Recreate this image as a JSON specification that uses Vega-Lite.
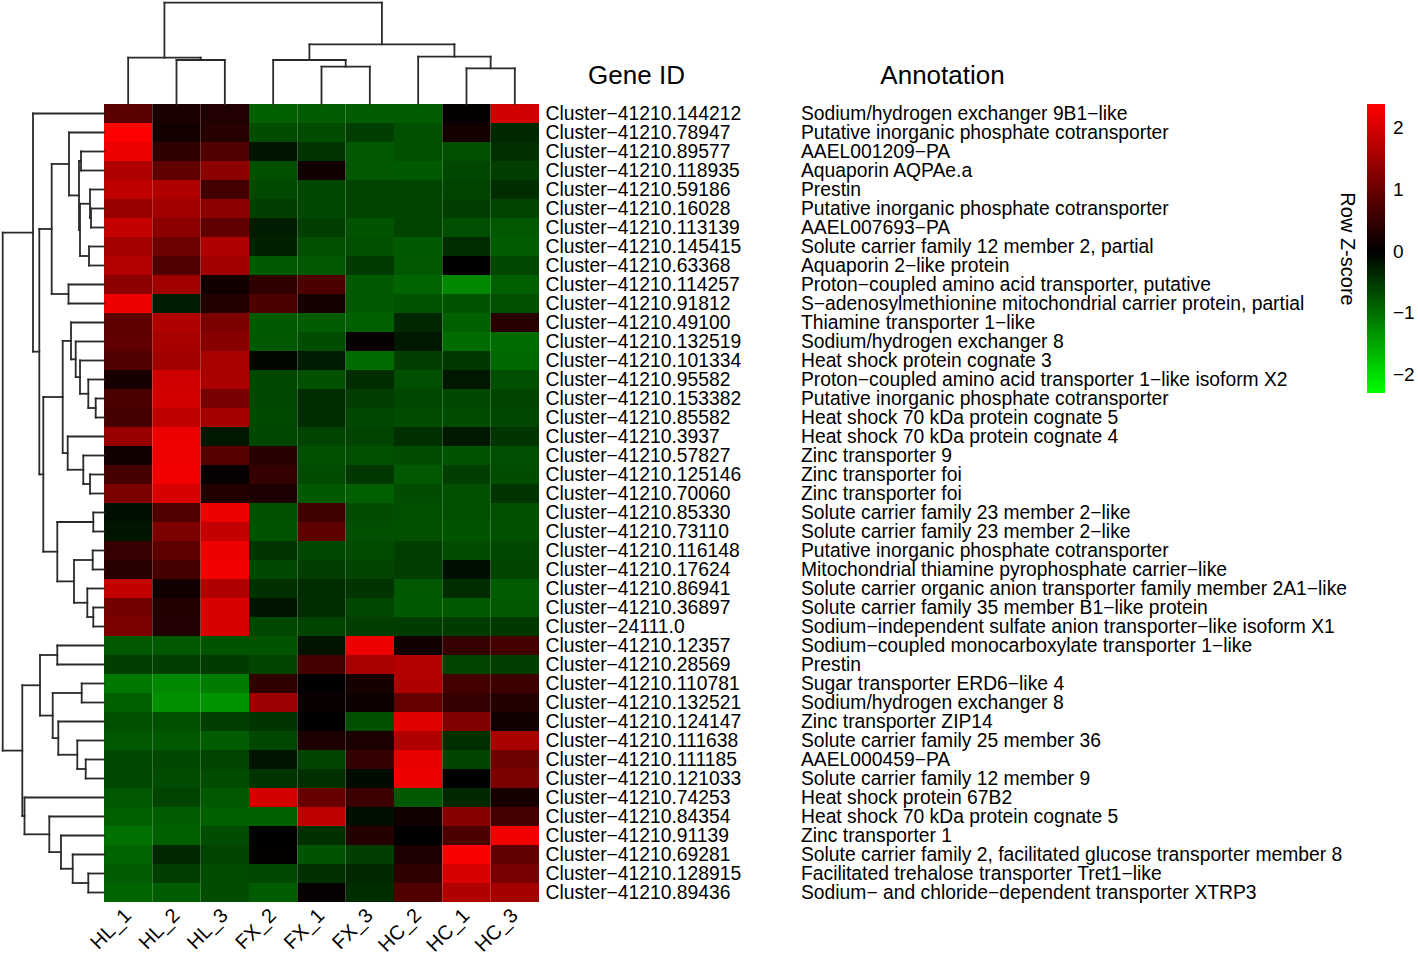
{
 "$schema": "https://vega.github.io/schema/vega-lite/v6.json",
 "width": 435,
 "height": 798,
 "autosize": {"type": "none"},
 "padding": {"left": 104, "top": 104, "right": 879, "bottom": 57},
 "background": "white",
 "config": {"view": {"stroke": null}, "font": "Liberation Sans"},
 "datasets": {
  "genes": [
   {"id":"Cluster−41210.144212","annot":"Sodium/hydrogen exchanger 9B1−like","HL_1":0.84,"HL_2":0.24,"HL_3":0.30,"FX_2":-0.86,"FX_1":-0.83,"FX_3":-0.83,"HC_2":-0.83,"HC_1":0.05,"HC_3":1.95},
   {"id":"Cluster−41210.78947","annot":"Putative inorganic phosphate cotransporter","HL_1":2.39,"HL_2":0.20,"HL_3":0.37,"FX_2":-0.68,"FX_1":-0.68,"FX_3":-0.57,"HC_2":-0.72,"HC_1":0.20,"HC_3":-0.36},
   {"id":"Cluster−41210.89577","annot":"AAEL001209−PA","HL_1":2.23,"HL_2":0.45,"HL_3":0.75,"FX_2":-0.18,"FX_1":-0.47,"FX_3":-0.79,"HC_2":-0.72,"HC_1":-0.72,"HC_3":-0.43},
   {"id":"Cluster−41210.118935","annot":"Aquaporin AQPAe.a","HL_1":1.65,"HL_2":0.90,"HL_3":1.31,"FX_2":-0.72,"FX_1":0.15,"FX_3":-0.79,"HC_2":-0.81,"HC_1":-0.65,"HC_3":-0.57},
   {"id":"Cluster−41210.59186","annot":"Prestin","HL_1":1.80,"HL_2":1.65,"HL_3":0.64,"FX_2":-0.66,"FX_1":-0.65,"FX_3":-0.61,"HC_2":-0.61,"HC_1":-0.61,"HC_3":-0.40},
   {"id":"Cluster−41210.16028","annot":"Putative inorganic phosphate cotransporter","HL_1":1.42,"HL_2":1.50,"HL_3":1.31,"FX_2":-0.57,"FX_1":-0.65,"FX_3":-0.61,"HC_2":-0.61,"HC_1":-0.57,"HC_3":-0.61},
   {"id":"Cluster−41210.113139","annot":"AAEL007693−PA","HL_1":1.84,"HL_2":1.31,"HL_3":0.90,"FX_2":-0.25,"FX_1":-0.57,"FX_3":-0.75,"HC_2":-0.61,"HC_1":-0.70,"HC_3":-0.79},
   {"id":"Cluster−41210.145415","annot":"Solute carrier family 12 member 2, partial","HL_1":1.54,"HL_2":1.05,"HL_3":1.65,"FX_2":-0.29,"FX_1":-0.72,"FX_3":-0.72,"HC_2":-0.81,"HC_1":-0.40,"HC_3":-0.83},
   {"id":"Cluster−41210.63368","annot":"Aquaporin 2−like protein","HL_1":1.69,"HL_2":0.75,"HL_3":1.50,"FX_2":-0.81,"FX_1":-0.79,"FX_3":-0.54,"HC_2":-0.79,"HC_1":0.0,"HC_3":-0.65},
   {"id":"Cluster−41210.114257","annot":"Proton−coupled amino acid transporter, putative","HL_1":1.31,"HL_2":1.50,"HL_3":0.17,"FX_2":0.45,"FX_1":0.71,"FX_3":-0.81,"HC_2":-0.90,"HC_1":-1.22,"HC_3":-0.86},
   {"id":"Cluster−41210.91812","annot":"S−adenosylmethionine mitochondrial carrier protein, partial","HL_1":2.23,"HL_2":-0.25,"HL_3":0.32,"FX_2":0.71,"FX_1":0.21,"FX_3":-0.81,"HC_2":-0.75,"HC_1":-0.75,"HC_3":-0.72},
   {"id":"Cluster−41210.49100","annot":"Thiamine transporter 1−like","HL_1":0.86,"HL_2":1.65,"HL_3":1.16,"FX_2":-0.81,"FX_1":-0.83,"FX_3":-0.86,"HC_2":-0.36,"HC_1":-0.86,"HC_3":0.37},
   {"id":"Cluster−41210.132519","annot":"Sodium/hydrogen exchanger 8","HL_1":0.90,"HL_2":1.57,"HL_3":1.27,"FX_2":-0.79,"FX_1":-0.68,"FX_3":0.07,"HC_2":-0.22,"HC_1":-0.97,"HC_3":-0.97},
   {"id":"Cluster−41210.101334","annot":"Heat shock protein cognate 3","HL_1":0.75,"HL_2":1.50,"HL_3":1.57,"FX_2":-0.07,"FX_1":-0.25,"FX_3":-0.97,"HC_2":-0.57,"HC_1":-0.50,"HC_3":-0.93},
   {"id":"Cluster−41210.95582","annot":"Proton−coupled amino acid transporter 1−like isoform X2","HL_1":0.21,"HL_2":1.95,"HL_3":1.61,"FX_2":-0.65,"FX_1":-0.72,"FX_3":-0.40,"HC_2":-0.70,"HC_1":-0.22,"HC_3":-0.70},
   {"id":"Cluster−41210.153382","annot":"Putative inorganic phosphate cotransporter","HL_1":0.71,"HL_2":1.99,"HL_3":1.12,"FX_2":-0.65,"FX_1":-0.40,"FX_3":-0.57,"HC_2":-0.65,"HC_1":-0.65,"HC_3":-0.61},
   {"id":"Cluster−41210.85582","annot":"Heat shock 70 kDa protein cognate 5","HL_1":0.67,"HL_2":1.80,"HL_3":1.54,"FX_2":-0.66,"FX_1":-0.40,"FX_3":-0.65,"HC_2":-0.68,"HC_1":-0.68,"HC_3":-0.65},
   {"id":"Cluster−41210.3937","annot":"Heat shock 70 kDa protein cognate 4","HL_1":1.42,"HL_2":2.21,"HL_3":-0.22,"FX_2":-0.65,"FX_1":-0.61,"FX_3":-0.61,"HC_2":-0.43,"HC_1":-0.22,"HC_3":-0.47},
   {"id":"Cluster−41210.57827","annot":"Zinc transporter 9","HL_1":0.17,"HL_2":2.25,"HL_3":0.82,"FX_2":0.37,"FX_1":-0.72,"FX_3":-0.72,"HC_2":-0.68,"HC_1":-0.75,"HC_3":-0.70},
   {"id":"Cluster−41210.125146","annot":"Zinc transporter foi","HL_1":0.67,"HL_2":2.27,"HL_3":0.07,"FX_2":0.49,"FX_1":-0.68,"FX_3":-0.50,"HC_2":-0.79,"HC_1":-0.57,"HC_3":-0.68},
   {"id":"Cluster−41210.70060","annot":"Zinc transporter foi","HL_1":1.16,"HL_2":2.02,"HL_3":0.32,"FX_2":0.26,"FX_1":-0.81,"FX_3":-0.86,"HC_2":-0.68,"HC_1":-0.72,"HC_3":-0.47},
   {"id":"Cluster−41210.85330","annot":"Solute carrier family 23 member 2−like","HL_1":-0.14,"HL_2":0.75,"HL_3":2.21,"FX_2":-0.72,"FX_1":0.60,"FX_3":-0.68,"HC_2":-0.72,"HC_1":-0.72,"HC_3":-0.72},
   {"id":"Cluster−41210.73110","annot":"Solute carrier family 23 member 2−like","HL_1":-0.18,"HL_2":1.16,"HL_3":1.84,"FX_2":-0.75,"FX_1":0.86,"FX_3":-0.72,"HC_2":-0.72,"HC_1":-0.75,"HC_3":-0.72},
   {"id":"Cluster−41210.116148","annot":"Putative inorganic phosphate cotransporter","HL_1":0.52,"HL_2":0.86,"HL_3":2.23,"FX_2":-0.47,"FX_1":-0.65,"FX_3":-0.68,"HC_2":-0.57,"HC_1":-0.68,"HC_3":-0.65},
   {"id":"Cluster−41210.17624","annot":"Mitochondrial thiamine pyrophosphate carrier−like","HL_1":0.37,"HL_2":0.67,"HL_3":2.29,"FX_2":-0.65,"FX_1":-0.57,"FX_3":-0.61,"HC_2":-0.57,"HC_1":-0.14,"HC_3":-0.61},
   {"id":"Cluster−41210.86941","annot":"Solute carrier organic anion transporter family member 2A1−like","HL_1":1.84,"HL_2":0.15,"HL_3":1.65,"FX_2":-0.43,"FX_1":-0.40,"FX_3":-0.47,"HC_2":-0.79,"HC_1":-0.40,"HC_3":-0.83},
   {"id":"Cluster−41210.36897","annot":"Solute carrier family 35 member B1−like protein","HL_1":1.09,"HL_2":0.34,"HL_3":2.02,"FX_2":-0.18,"FX_1":-0.40,"FX_3":-0.65,"HC_2":-0.81,"HC_1":-0.81,"HC_3":-0.79},
   {"id":"Cluster−24111.0","annot":"Sodium−independent sulfate anion transporter−like isoform X1","HL_1":1.16,"HL_2":0.30,"HL_3":2.02,"FX_2":-0.65,"FX_1":-0.61,"FX_3":-0.57,"HC_2":-0.54,"HC_1":-0.54,"HC_3":-0.50},
   {"id":"Cluster−41210.12357","annot":"Sodium−coupled monocarboxylate transporter 1−like","HL_1":-0.79,"HL_2":-0.79,"HL_3":-0.75,"FX_2":-0.75,"FX_1":-0.18,"FX_3":2.23,"HC_2":0.15,"HC_1":0.52,"HC_3":0.64},
   {"id":"Cluster−41210.28569","annot":"Prestin","HL_1":-0.57,"HL_2":-0.57,"HL_3":-0.54,"FX_2":-0.61,"FX_1":0.64,"FX_3":1.57,"HC_2":1.69,"HC_1":-0.61,"HC_3":-0.57},
   {"id":"Cluster−41210.110781","annot":"Sugar transporter ERD6−like 4","HL_1":-1.08,"HL_2":-1.22,"HL_3":-1.11,"FX_2":0.45,"FX_1":0.0,"FX_3":0.22,"HC_2":1.65,"HC_1":0.64,"HC_3":0.56},
   {"id":"Cluster−41210.132521","annot":"Sodium/hydrogen exchanger 8","HL_1":-0.86,"HL_2":-1.29,"HL_3":-1.33,"FX_2":1.46,"FX_1":0.09,"FX_3":0.13,"HC_2":0.94,"HC_1":0.49,"HC_3":0.34},
   {"id":"Cluster−41210.124147","annot":"Zinc transporter ZIP14","HL_1":-0.72,"HL_2":-0.72,"HL_3":-0.57,"FX_2":-0.47,"FX_1":0.0,"FX_3":-0.72,"HC_2":2.10,"HC_1":1.20,"HC_3":0.17},
   {"id":"Cluster−41210.111638","annot":"Solute carrier family 25 member 36","HL_1":-0.79,"HL_2":-0.79,"HL_3":-0.83,"FX_2":-0.65,"FX_1":0.26,"FX_3":0.26,"HC_2":1.65,"HC_1":-0.43,"HC_3":1.57},
   {"id":"Cluster−41210.111185","annot":"AAEL000459−PA","HL_1":-0.65,"HL_2":-0.65,"HL_3":-0.61,"FX_2":-0.18,"FX_1":-0.61,"FX_3":0.49,"HC_2":2.17,"HC_1":-0.61,"HC_3":1.05},
   {"id":"Cluster−41210.121033","annot":"Solute carrier family 12 member 9","HL_1":-0.65,"HL_2":-0.68,"HL_3":-0.68,"FX_2":-0.47,"FX_1":-0.43,"FX_3":-0.11,"HC_2":2.23,"HC_1":0.0,"HC_3":1.16},
   {"id":"Cluster−41210.74253","annot":"Heat shock protein 67B2","HL_1":-0.79,"HL_2":-0.61,"HL_3":-0.79,"FX_2":1.99,"FX_1":0.97,"FX_3":0.56,"HC_2":-0.79,"HC_1":-0.36,"HC_3":0.22},
   {"id":"Cluster−41210.84354","annot":"Heat shock 70 kDa protein cognate 5","HL_1":-0.86,"HL_2":-0.83,"HL_3":-0.86,"FX_2":-0.86,"FX_1":1.80,"FX_3":-0.13,"HC_2":0.17,"HC_1":1.27,"HC_3":0.64},
   {"id":"Cluster−41210.91139","annot":"Zinc transporter 1","HL_1":-1.01,"HL_2":-0.86,"HL_3":-0.68,"FX_2":0.0,"FX_1":-0.43,"FX_3":0.34,"HC_2":0.0,"HC_1":0.71,"HC_3":2.29},
   {"id":"Cluster−41210.69281","annot":"Solute carrier family 2, facilitated glucose transporter member 8","HL_1":-0.90,"HL_2":-0.36,"HL_3":-0.61,"FX_2":0.04,"FX_1":-0.75,"FX_3":-0.57,"HC_2":0.26,"HC_1":2.34,"HC_3":0.90},
   {"id":"Cluster−41210.128915","annot":"Facilitated trehalose transporter Tret1−like","HL_1":-0.83,"HL_2":-0.57,"HL_3":-0.68,"FX_2":-0.65,"FX_1":-0.43,"FX_3":-0.36,"HC_2":0.45,"HC_1":2.02,"HC_3":1.12},
   {"id":"Cluster−41210.89436","annot":"Sodium− and chloride−dependent transporter XTRP3","HL_1":-0.90,"HL_2":-0.83,"HL_3":-0.68,"FX_2":-0.83,"FX_1":0.07,"FX_3":-0.40,"HC_2":0.75,"HC_1":1.65,"HC_3":1.54}
  ],
  "rowtree": [
   {"h":23,"p1":2.5,"h1":0,"p2":3.5,"h2":0},
   {"h":13,"p1":5.5,"h1":0,"p2":6.5,"h2":0},
   {"h":14,"p1":4.5,"h1":0,"p2":6.0,"h2":13},
   {"h":15,"p1":7.5,"h1":0,"p2":8.5,"h2":0},
   {"h":24,"p1":5.25,"h1":14,"p2":8.0,"h2":15},
   {"h":25,"p1":3.0,"h1":23,"p2":6.625,"h2":24},
   {"h":35,"p1":1.5,"h1":0,"p2":4.8125,"h2":25},
   {"h":35.5,"p1":9.5,"h1":0,"p2":10.5,"h2":0},
   {"h":52.3,"p1":3.156,"h1":35,"p2":10.0,"h2":35.5},
   {"h":8.3,"p1":15.5,"h1":0,"p2":16.5,"h2":0},
   {"h":15.7,"p1":14.5,"h1":0,"p2":16.0,"h2":8.3},
   {"h":24,"p1":13.5,"h1":0,"p2":15.25,"h2":15.7},
   {"h":28.3,"p1":12.5,"h1":0,"p2":14.375,"h2":24},
   {"h":33,"p1":11.5,"h1":0,"p2":13.4375,"h2":28.3},
   {"h":14,"p1":19.5,"h1":0,"p2":20.5,"h2":0},
   {"h":20.7,"p1":18.5,"h1":0,"p2":20.0,"h2":14},
   {"h":36.3,"p1":17.5,"h1":0,"p2":19.25,"h2":20.7},
   {"h":41.3,"p1":12.469,"h1":33,"p2":18.375,"h2":36.3},
   {"h":10.7,"p1":21.5,"h1":0,"p2":22.5,"h2":0},
   {"h":11.3,"p1":23.5,"h1":0,"p2":24.5,"h2":0},
   {"h":10.7,"p1":26.5,"h1":0,"p2":27.5,"h2":0},
   {"h":16.7,"p1":25.5,"h1":0,"p2":27.0,"h2":10.7},
   {"h":30,"p1":24.0,"h1":11.3,"p2":26.25,"h2":16.7},
   {"h":46.7,"p1":22.0,"h1":10.7,"p2":25.125,"h2":30},
   {"h":60.7,"p1":15.422,"h1":41.3,"p2":23.5625,"h2":46.7},
   {"h":64.7,"p1":6.578,"h1":52.3,"p2":19.492,"h2":60.7},
   {"h":71,"p1":0.5,"h1":0,"p2":13.035,"h2":64.7},
   {"h":46.7,"p1":28.5,"h1":0,"p2":29.5,"h2":0},
   {"h":22.3,"p1":30.5,"h1":0,"p2":31.5,"h2":0},
   {"h":18.3,"p1":34.5,"h1":0,"p2":35.5,"h2":0},
   {"h":26.7,"p1":33.5,"h1":0,"p2":35.0,"h2":18.3},
   {"h":45.7,"p1":32.5,"h1":0,"p2":34.25,"h2":26.7},
   {"h":51.3,"p1":31.0,"h1":22.3,"p2":33.375,"h2":45.7},
   {"h":64,"p1":29.0,"h1":46.7,"p2":32.1875,"h2":51.3},
   {"h":15.7,"p1":40.5,"h1":0,"p2":41.5,"h2":0},
   {"h":31.3,"p1":39.5,"h1":0,"p2":41.0,"h2":15.7},
   {"h":43,"p1":38.5,"h1":0,"p2":40.25,"h2":31.3},
   {"h":54.7,"p1":37.5,"h1":0,"p2":39.375,"h2":43},
   {"h":79.5,"p1":36.5,"h1":0,"p2":38.4375,"h2":54.7},
   {"h":81.7,"p1":30.594,"h1":64,"p2":37.469,"h2":79.5},
   {"h":101.3,"p1":6.768,"h1":71,"p2":34.031,"h2":81.7}
  ],
  "coltree": [
   {"h":44,"p1":1.5,"h1":0,"p2":2.5,"h2":0},
   {"h":46.3,"p1":0.5,"h1":0,"p2":2.0,"h2":44},
   {"h":37.3,"p1":4.5,"h1":0,"p2":5.5,"h2":0},
   {"h":44,"p1":3.5,"h1":0,"p2":5.0,"h2":37.3},
   {"h":35.7,"p1":7.5,"h1":0,"p2":8.5,"h2":0},
   {"h":47.3,"p1":6.5,"h1":0,"p2":8.0,"h2":35.7},
   {"h":59.7,"p1":4.25,"h1":44,"p2":7.25,"h2":47.3},
   {"h":101.3,"p1":1.25,"h1":46.3,"p2":5.75,"h2":59.7}
  ]
 },
 "resolve": {"scale": {"x": "independent", "y": "independent"}, "axis": {"x": "independent", "y": "independent"}},
 "layer": [
  {
   "data": {"name": "genes"},
   "transform": [{"fold": ["HL_1","HL_2","HL_3","FX_2","FX_1","FX_3","HC_2","HC_1","HC_3"], "as": ["sample","z"]}],
   "mark": {"type": "rect"},
   "encoding": {
    "x": {"field": "sample", "type": "nominal",
          "scale": {"domain": ["HL_1","HL_2","HL_3","FX_2","FX_1","FX_3","HC_2","HC_1","HC_3"], "paddingInner": 0, "paddingOuter": 0},
          "axis": {"orient": "bottom", "labelAngle": -45, "labelAlign": "right", "labelBaseline": "middle", "labelPadding": 10, "labelFontSize": 20, "labelColor": "black", "ticks": false, "domain": false, "grid": false, "title": null}},
    "y": {"field": "id", "type": "nominal", "sort": null,
          "scale": {"paddingInner": 0, "paddingOuter": 0},
          "axis": {"orient": "right", "labelPadding": 6, "labelFontSize": 19.3, "labelColor": "black", "labelLimit": 400, "labelOverlap": false, "ticks": false, "domain": false, "grid": false,
                   "title": "Gene ID", "titleAngle": 0, "titleX": 97, "titleY": -29, "titleAlign": "center", "titleBaseline": "middle", "titleFontSize": 26, "titleFontWeight": "normal", "titleColor": "black"}},
    "color": {"field": "z", "type": "quantitative",
              "scale": {"domain": [-2.29, 0, 2.39], "range": ["#00ff00", "#000000", "#ff0000"], "interpolate": "rgb"},
              "legend": {"orient": "none", "legendX": 1233, "legendY": 0, "direction": "vertical", "gradientLength": 289, "gradientThickness": 18, "gradientStrokeWidth": 0,
                         "title": "Row Z-score", "titleOrient": "left", "titleAnchor": "middle", "titleFontSize": 20, "titleFontWeight": "normal", "titleColor": "black", "titlePadding": -11,
                         "labelFontSize": 19, "labelColor": "black", "labelOffset": 8, "values": [-2, -1, 0, 1, 2], "format": "d", "padding": 0,
                         "encode": {"title": {"update": {"angle": {"value": 90}}}}}}
   }
  },
  {
   "data": {"name": "genes"},
   "mark": {"type": "text", "align": "left", "baseline": "middle", "fontSize": 19.3, "color": "black"},
   "encoding": {
    "x": {"datum": 1, "type": "quantitative", "scale": {"domain": [0, 1], "range": [0, 697], "nice": false, "zero": false},
          "axis": {"orient": "top", "labels": false, "ticks": false, "domain": false, "grid": false,
                   "title": "Annotation", "titleAngle": 0, "titleX": 838, "titleY": -29, "titleAlign": "center", "titleBaseline": "middle", "titleFontSize": 26, "titleFontWeight": "normal", "titleColor": "black"}},
    "y": {"field": "id", "type": "nominal", "sort": null, "scale": {"type": "band", "paddingInner": 0, "paddingOuter": 0}, "axis": null},
    "text": {"field": "annot"}
   }
  },
  {
   "data": {"name": "rowtree"},
   "layer": [
    {"mark": {"type": "rule", "color": "#2a2a2a", "strokeWidth": 1.8, "strokeCap": "square"},
     "encoding": {
      "x": {"field": "h", "type": "quantitative", "scale": {"domain": [0, 100], "range": [0, -100], "nice": false, "zero": false}, "axis": null},
      "y": {"field": "p1", "type": "quantitative", "scale": {"domain": [0, 42], "range": [0, 798], "nice": false, "zero": false}, "axis": null},
      "y2": {"field": "p2"}}},
    {"mark": {"type": "rule", "color": "#2a2a2a", "strokeWidth": 1.8, "strokeCap": "square"},
     "encoding": {
      "x": {"field": "h", "type": "quantitative", "scale": {"domain": [0, 100], "range": [0, -100], "nice": false, "zero": false}, "axis": null},
      "x2": {"field": "h1"},
      "y": {"field": "p1", "type": "quantitative", "scale": {"domain": [0, 42], "range": [0, 798], "nice": false, "zero": false}, "axis": null}}},
    {"mark": {"type": "rule", "color": "#2a2a2a", "strokeWidth": 1.8, "strokeCap": "square"},
     "encoding": {
      "x": {"field": "h", "type": "quantitative", "scale": {"domain": [0, 100], "range": [0, -100], "nice": false, "zero": false}, "axis": null},
      "x2": {"field": "h2"},
      "y": {"field": "p2", "type": "quantitative", "scale": {"domain": [0, 42], "range": [0, 798], "nice": false, "zero": false}, "axis": null}}}
   ]
  },
  {
   "data": {"name": "coltree"},
   "layer": [
    {"mark": {"type": "rule", "color": "#2a2a2a", "strokeWidth": 1.8, "strokeCap": "square"},
     "encoding": {
      "y": {"field": "h", "type": "quantitative", "scale": {"domain": [0, 100], "range": [0, -100], "nice": false, "zero": false}, "axis": null},
      "x": {"field": "p1", "type": "quantitative", "scale": {"domain": [0, 9], "range": [0, 435], "nice": false, "zero": false}, "axis": null},
      "x2": {"field": "p2"}}},
    {"mark": {"type": "rule", "color": "#2a2a2a", "strokeWidth": 1.8, "strokeCap": "square"},
     "encoding": {
      "y": {"field": "h", "type": "quantitative", "scale": {"domain": [0, 100], "range": [0, -100], "nice": false, "zero": false}, "axis": null},
      "y2": {"field": "h1"},
      "x": {"field": "p1", "type": "quantitative", "scale": {"domain": [0, 9], "range": [0, 435], "nice": false, "zero": false}, "axis": null}}},
    {"mark": {"type": "rule", "color": "#2a2a2a", "strokeWidth": 1.8, "strokeCap": "square"},
     "encoding": {
      "y": {"field": "h", "type": "quantitative", "scale": {"domain": [0, 100], "range": [0, -100], "nice": false, "zero": false}, "axis": null},
      "y2": {"field": "h2"},
      "x": {"field": "p2", "type": "quantitative", "scale": {"domain": [0, 9], "range": [0, 435], "nice": false, "zero": false}, "axis": null}}}
   ]
  }
 ]
}
